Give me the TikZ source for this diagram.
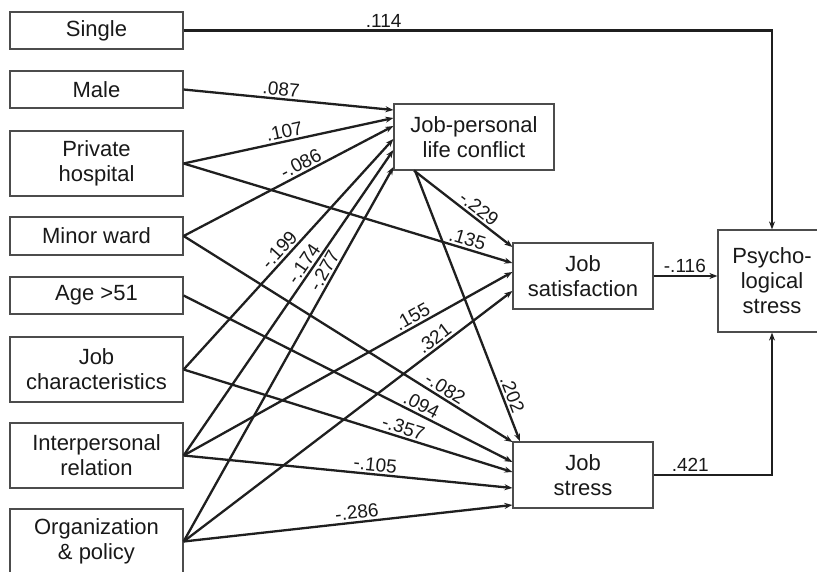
\documentclass[tikz,border=0pt]{standalone}
\usepackage{fontspec}
\setmainfont{Liberation Sans}
\usetikzlibrary{arrows.meta}
\begin{document}
\begin{tikzpicture}[x=1pt,y=-1pt,
 box/.style={draw=black!70, line width=1.2pt, align=center, inner sep=0pt, font=\fontsize{22}{25}\selectfont, text=black!90},
 conn/.style={line width=2.3pt, draw=black!88, -{Stealth[length=8pt,width=6pt]}},
 lab/.style={font=\fontsize{19}{19}\selectfont, inner sep=2pt, sloped, above, text=black!90}]
\clip (0,0) rectangle (817,572);
\fill[white] (0,0) rectangle (817,572);
% left boxes
\node[box, minimum width=173pt, minimum height=37pt] (single) at (96.5,30.5) {Single};
\node[box, minimum width=173pt, minimum height=37pt] (male) at (96.5,89.5) {Male};
\node[box, minimum width=173pt, minimum height=65pt] (priv) at (96.5,163.5) {Private\\hospital};
\node[box, minimum width=173pt, minimum height=38pt] (minor) at (96.5,236) {Minor ward};
\node[box, minimum width=173pt, minimum height=37pt] (age) at (96.5,295.5) {Age {>}51};
\node[box, minimum width=173pt, minimum height=65pt] (jchar) at (96.5,369.5) {Job\\characteristics};
\node[box, minimum width=173pt, minimum height=65pt] (inter) at (96.5,455.5) {Interpersonal\\relation};
\node[box, minimum width=173pt, minimum height=65pt] (org) at (96.5,541.5) {Organization\\\& policy};
% right boxes
\node[box, minimum width=160pt, minimum height=66pt] (jplc) at (474,137) {Job-personal\\life conflict};
\node[box, minimum width=140pt, minimum height=66pt] (jsat) at (583,276) {Job\\satisfaction};
\node[box, minimum width=140pt, minimum height=66pt] (jstress) at (583,475) {Job\\stress};
\node[box, minimum width=108pt, minimum height=102pt] (psych) at (772,281) {Psycho-\\logical\\stress};
% to JPLC
\draw[conn] (male.east) -- node[lab,pos=0.46]{.087} ([yshift=27pt]jplc.west);
\draw[conn] (priv.east) -- node[lab,pos=0.49]{.107} ([yshift=19pt]jplc.west);
\draw[conn] (minor.east) -- node[lab,pos=0.58]{-.086} ([yshift=11pt]jplc.west);
\draw[conn] (jchar.east) -- node[lab,pos=0.49]{-.199} ([yshift=-2pt]jplc.west);
\draw[conn] (inter.east) -- node[lab,pos=0.61]{-.174} ([yshift=-13pt]jplc.west);
\draw[conn] (org.east) -- node[lab,pos=0.71]{-.277} ([yshift=-30pt]jplc.west);
% to job satisfaction
\draw[conn] ([xshift=-60pt]jplc.south) -- node[lab,pos=0.6]{-.229} ([yshift=29pt]jsat.west);
\draw[conn] (priv.east) -- node[lab,pos=0.855]{.135} ([yshift=13pt]jsat.west);
\draw[conn] (inter.east) -- node[lab,pos=0.71]{.155} ([yshift=4pt]jsat.west);
\draw[conn] (org.east) -- node[lab,pos=0.78]{.321} ([yshift=-15pt]jsat.west);
% to job stress
\draw[conn] ([xshift=-59pt]jplc.south) -- node[lab,pos=0.84]{.202} ([xshift=-63pt]jstress.north);
\draw[conn] (minor.east) -- node[lab,pos=0.78]{-.082} ([yshift=33pt]jstress.west);
\draw[conn] (age.east) -- node[lab,pos=0.71]{.094} ([yshift=13pt]jstress.west);
\draw[conn] (jchar.east) -- node[lab,pos=0.66]{-.357} ([yshift=3pt]jstress.west);
\draw[conn] (inter.east) -- node[lab,pos=0.58]{-.105} ([yshift=-13pt]jstress.west);
\draw[conn] (org.east) -- node[lab,pos=0.53]{-.286} ([yshift=-30pt]jstress.west);
% to psych
\coordinate (c1) at (single.east -| psych.north);
\draw[conn] (single.east) -- node[lab,pos=0.34]{.114} (c1) -- (psych.north);
\draw[conn] (jsat.east) -- node[lab,pos=0.49]{-.116} (jsat.east -| psych.west);
\coordinate (c2) at (jstress.east -| psych.south);
\draw[conn] (jstress.east) -- node[lab,pos=0.31]{.421} (c2) -- (psych.south);
\end{tikzpicture}
\end{document}
